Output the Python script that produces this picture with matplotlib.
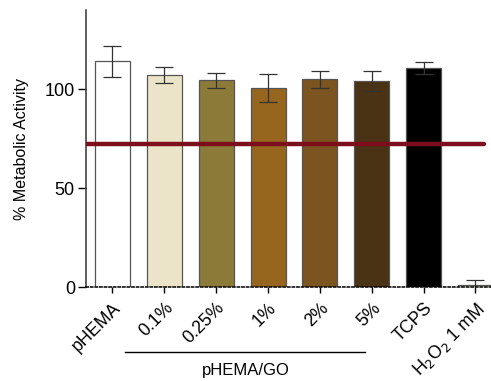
import matplotlib
matplotlib.use("Agg")
import matplotlib.pyplot as plt
import matplotlib.transforms as mtransforms

plt.rcParams['font.family'] = ['Liberation Sans', 'DejaVu Sans']

categories = ['pHEMA', '0.1%', '0.25%', '1%', '2%', '5%', 'TCPS', 'H$_2$O$_2$ 1 mM']
values = [114, 107, 104.5, 100.5, 105, 104, 110.6, 1.2]
errors = [8, 4, 3.8, 7, 4.2, 5, 3, 2.4]
colors = ['#ffffff', '#ece4c8', '#8b7a38', '#96651e', '#7b5420', '#4a3214', '#000000', '#ece4c8']
threshold = 72.4
group_label = 'pHEMA/GO'

fig = plt.figure(figsize=(4.91, 3.81), dpi=100)
ax = fig.add_axes([86/491, 1-287/381, 1-86/491, (287-10)/381])

x = list(range(len(categories)))
ax.bar(x, values, width=0.675, color=colors, edgecolor='#555555', linewidth=0.9, zorder=2)
ax.errorbar(x, values, yerr=errors, fmt='none', ecolor='#333333', elinewidth=0.9,
            capsize=6.5, capthick=0.9, zorder=3)

ax.axhline(threshold, xmin=0, xmax=(484-86)/(491-86), color='#7d0f1c', linewidth=3.2, zorder=4,
           solid_capstyle='round')

ax.set_xlim(-0.51, 7.3)
ax.set_ylim(0, 140)
ax.set_yticks([0, 50, 100])
ax.tick_params(axis='y', labelsize=13, length=6, width=1, pad=2)
ax.set_xticks(x)
ax.set_xticklabels(categories, rotation=45, ha='right', rotation_mode='anchor', fontsize=12.8)
ax.tick_params(axis='x', length=4, width=1, pad=5)
ax.set_ylabel('% Metabolic Activity', fontsize=11.5, labelpad=11)

for s in ['top', 'right']:
    ax.spines[s].set_visible(False)
ax.spines['left'].set_linewidth(1.1)
ax.spines['left'].set_color('#333333')
ax.spines['bottom'].set_linestyle((0, (1.5, 1.5)))
ax.spines['bottom'].set_linewidth(1.1)
ax.spines['bottom'].set_zorder(5)

trans = mtransforms.blended_transform_factory(ax.transData, ax.transAxes)
ax.plot([0.24, 4.87], [-0.235, -0.235], color='black', linewidth=1, transform=trans, clip_on=False)
ax.text(2.58, -0.30, group_label, transform=trans, ha='center', va='center', fontsize=12)

fig.savefig('out.png', dpi=100)
